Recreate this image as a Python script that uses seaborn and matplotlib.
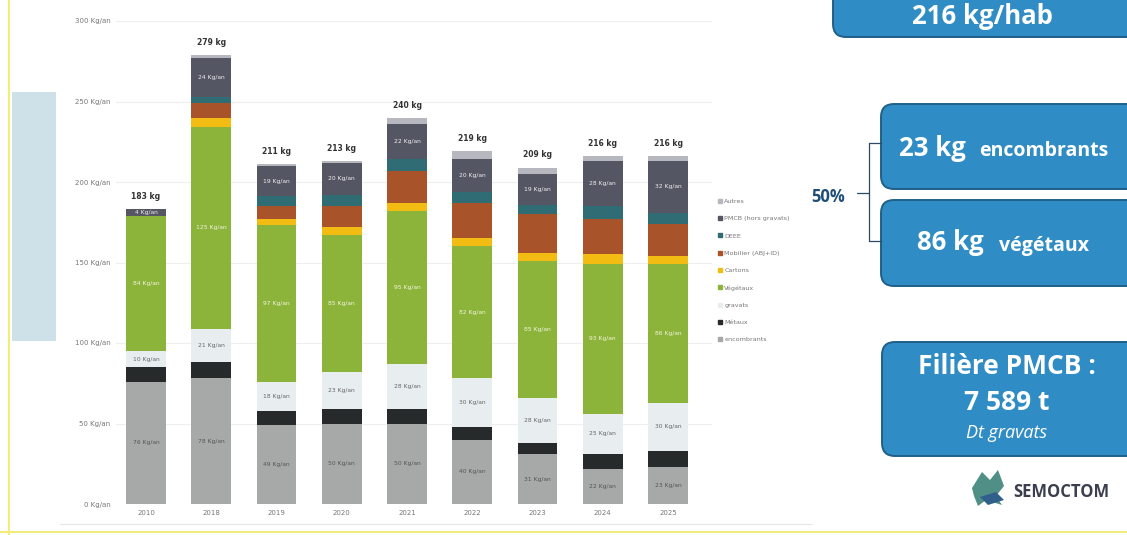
import pandas as pd
import numpy as np
import matplotlib
matplotlib.use('Agg')
import matplotlib.pyplot as plt
from matplotlib.patches import FancyBboxPatch, Rectangle, Polygon
from matplotlib.lines import Line2D
import seaborn as sns

# data (kg / habitant / an)
annees = ['2010', '2018', '2019', '2020', '2021', '2022', '2023', '2024', '2025']
encombrants = [76, 78, 49, 50, 50, 40, 31, 22, 23]
metaux = [9, 10, 9, 9, 9, 8, 7, 9, 10]
gravats = [10, 21, 18, 23, 28, 30, 28, 25, 30]
vegetaux = [84, 125, 97, 85, 95, 82, 85, 93, 86]
cartons = [0, 6, 4, 5, 5, 5, 5, 6, 5]
mobilier = [0, 9, 8, 13, 20, 22, 24, 22, 20]
deee = [0, 4, 6, 7, 7, 7, 6, 8, 7]
pmcb = [4, 24, 19, 20, 22, 20, 19, 28, 32]
autres = [0, 2, 1, 1, 4, 5, 4, 3, 3]

# bottom -> top
flux = ['encombrants', 'Métaux', 'gravats', 'Végétaux', 'Cartons',
        'Mobilier (ABJ+ID)', 'DEEE', 'PMCB (hors gravats)', 'Autres']
valeurs = [encombrants, metaux, gravats, vegetaux, cartons, mobilier, deee, pmcb, autres]
couleurs = ['#a7a8a8', '#272a2a', '#e8eef0', '#8cb43a', '#f2bc12',
            '#a9532a', '#2f6c74', '#555663', '#b7b7bf']
etiquettes = {'encombrants': '#555555', 'gravats': '#666666',
              'Végétaux': '#f4f4e0', 'PMCB (hors gravats)': '#f0f0f0'}

df = pd.DataFrame(dict(zip(flux, valeurs)), index=annees)
cumul = df.cumsum(axis=1)
totaux = df.sum(axis=1)

W, H = 1127, 535
fig = plt.figure(figsize=(W / 100, H / 100), dpi=100)
fig.patch.set_facecolor('white')

ax = fig.add_axes([116 / W, (H - 504) / H, 596 / W, 483 / H])
sns.set_style('white')

# stacked bars: draw cumulative heights from the top layer down
for nom, col in reversed(list(zip(flux, couleurs))):
    sns.barplot(x=annees, y=cumul[nom].values, color=col, width=0.61,
                saturation=1, linewidth=0, ax=ax, zorder=3)

ax.set_xlim(-0.46, 8.674)
ax.set_ylim(0, 300)
ax.set_yticks(range(0, 301, 50))
ax.set_yticklabels([f'{v} Kg/an' for v in range(0, 301, 50)])
ax.tick_params(axis='both', length=0, labelsize=5, colors='#777777', pad=4)
ax.grid(axis='y', color='#eeeeee', linewidth=0.8, zorder=0)
for s in ax.spines.values():
    s.set_visible(False)
ax.set_xlabel('')
ax.set_ylabel('')

# segment labels
for i, an in enumerate(annees):
    for nom in etiquettes:
        v = df.loc[an, nom]
        if v <= 0:
            continue
        y = cumul.loc[an, nom] - v / 2
        ax.text(i, y, f'{v} Kg/an', ha='center', va='center', fontsize=4.3,
                color=etiquettes[nom], zorder=5)
    ax.text(i, totaux[an] + 5, f'{totaux[an]} kg', ha='center', va='bottom',
            fontsize=5.5, fontweight='bold', color='#333333', zorder=5)

# legend
handles = []
for nom, col in reversed(list(zip(flux, couleurs))):
    handles.append(Line2D([0], [0], marker='s', linestyle='', markersize=3,
                          markerfacecolor=col, markeredgecolor=col))
leg = fig.legend(handles, list(reversed(flux)), loc='upper left',
                 bbox_to_anchor=(714 / W, 1 - 196 / H), frameon=False,
                 fontsize=4.6, labelspacing=1.85, handletextpad=0.2,
                 handlelength=1.0, borderaxespad=0)
for t in leg.get_texts():
    t.set_color('#777777')

# overlay in pixel coordinates for the slide decorations
ov = fig.add_axes([0, 0, 1, 1], zorder=10)
ov.set_xlim(0, W)
ov.set_ylim(H, 0)
ov.axis('off')
ov.patch.set_alpha(0)

ov.plot([9, 9], [0, H], color='#f2ec7a', linewidth=1.5)
ov.plot([0, W], [532, 532], color='#f2ec7a', linewidth=1.5)
ov.plot([60, 812], [524, 524], color='#e6e6e6', linewidth=0.8)
ov.add_patch(Rectangle((12, 92), 44, 249, facecolor='#cfe1e8', edgecolor='none'))

bleu, bord = '#2f8cc4', '#1f5f88'
police = 'Open Sans'


def boite(x0, y0, x1, y1):
    ov.add_patch(FancyBboxPatch((x0, y0), x1 - x0, y1 - y0,
                                boxstyle='round,pad=0,rounding_size=13',
                                facecolor=bleu, edgecolor=bord, linewidth=1.4))


boite(833, -30, 1150, 37)
ov.text(982, 16, '216 kg/hab', ha='center', va='center', fontsize=18.5,
        fontweight='bold', color='white', family=police)

boite(881, 104, 1150, 189)
ov.text(899, 148, '23 kg', ha='left', va='center', fontsize=18.5,
        fontweight='bold', color='white', family=police)
ov.text(979, 151, 'encombrants', ha='left', va='center', fontsize=14,
        fontweight='bold', color='white', family=police)

boite(881, 200, 1150, 286)
ov.text(917, 243, '86 kg', ha='left', va='center', fontsize=18.5,
        fontweight='bold', color='white', family=police)
ov.text(999, 246, 'végétaux', ha='left', va='center', fontsize=14,
        fontweight='bold', color='white', family=police)

ov.text(811, 197, '50%', ha='left', va='center', fontsize=12,
        fontweight='bold', color='#1f4e79', family=police)
ov.plot([881, 869, 869, 881], [143, 143, 241, 241], color='#2b4a66', linewidth=0.9)
ov.plot([857, 869], [193, 193], color='#2b4a66', linewidth=0.9)

boite(882, 342, 1150, 456)
ov.text(1007, 367, 'Filière PMCB :', ha='center', va='center', fontsize=19,
        fontweight='bold', color='white', family=police)
ov.text(1007, 402, '7 589 t', ha='center', va='center', fontsize=19,
        fontweight='bold', color='white', family=police)
ov.text(1007, 433, 'Dt gravats', ha='center', va='center', fontsize=13,
        style='italic', color='white', family=police)

# logo
ov.add_patch(Polygon([(972, 488), (982, 472), (990, 480), (998, 470), (1004, 486),
                      (996, 496), (1002, 505), (986, 500), (978, 506), (974, 496)],
                     closed=True, facecolor='#4f8f86', edgecolor='none'))
ov.add_patch(Polygon([(980, 497), (996, 492), (1004, 500), (988, 505)],
                     closed=True, facecolor='#2f5f8a', edgecolor='none'))
ov.text(1013, 492, 'SEMOCTOM', ha='left', va='center', fontsize=12,
        fontweight='bold', color='#3b3e4e', family=police)

fig.savefig('out.png', dpi=100)
